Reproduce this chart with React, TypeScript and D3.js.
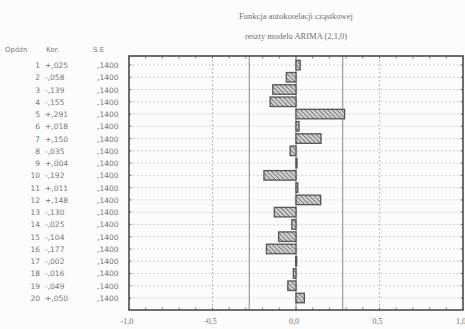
import React from "react";
import * as d3 from "d3";

const titleLines = ["Funkcja autokorelacji cząstkowej", "reszty modelu ARIMA (2,1,0)"];
const headers = ["Opóźn", "Kor.", "S.E"];
const lags = [1, 2, 3, 4, 5, 6, 7, 8, 9, 10, 11, 12, 13, 14, 15, 16, 17, 18, 19, 20];
const pacf = [0.025, -0.058, -0.139, -0.155, 0.291, 0.018, 0.150, -0.035, 0.004, -0.192,
  0.011, 0.148, -0.130, -0.025, -0.104, -0.177, -0.002, -0.016, -0.049, 0.050];
const stdErr = [0.14, 0.14, 0.14, 0.14, 0.14, 0.14, 0.14, 0.14, 0.14, 0.14,
  0.14, 0.14, 0.14, 0.14, 0.14, 0.14, 0.14, 0.14, 0.14, 0.14];
const xTicks = [-1, -0.5, 0, 0.5, 1];
const xTickLabels = ["-1,0", "-0,5", "0,0", "0,5", "1,0"];

const W = 465, H = 329;
const box = { left: 129, right: 463, top: 56, bottom: 310 };

const fmtCorr = (v: number) => {
  const s = v < 0 ? "-" : "+";
  const a = Math.round(Math.abs(v) * 1000);
  return s + "," + String(a).padStart(3, "0");
};
const fmtSE = (v: number) => "," + String(Math.round(v * 10000)).padStart(4, "0");

export default function App() {
  const x = d3.scaleLinear().domain([-1, 1]).range([box.left, box.right]);
  const y = d3.scaleLinear().domain([1, 20]).range([65, 298]);
  const conf = 2 * stdErr[0];
  const minor = d3.range(-1, 1.0001, 0.1);
  const barH = 9.5;
  const textFill = "#777";
  return (
    <svg width={W} height={H} style={{ position: "absolute", left: 0, top: 0, background: "#fcfcfc" }}>
      <defs>
        <pattern id="hatch" width="3.2" height="3.2" patternUnits="userSpaceOnUse" patternTransform="rotate(-45)">
          <rect width="3.2" height="3.2" fill="#cfcfcf" />
          <line x1="0" y1="0" x2="0" y2="3.2" stroke="#6a6a6a" strokeWidth="1.5" />
        </pattern>
      </defs>
      {titleLines.map((t, i) => (
        <text key={i} x={(box.left + box.right) / 2} y={19 + i * 20} textAnchor="middle"
          fontFamily="Liberation Serif, serif" fontSize={8.5} fill="#707070">{t}</text>
      ))}
      <text x={5} y={52} fontFamily="DejaVu Sans, sans-serif" fontSize={7} fill={textFill}>{headers[0]}</text>
      <text x={46} y={52} fontFamily="DejaVu Sans, sans-serif" fontSize={7} fill={textFill}>{headers[1]}</text>
      <text x={93} y={52} fontFamily="DejaVu Sans, sans-serif" fontSize={7} fill={textFill}>{headers[2]}</text>
      {lags.map((l, i) => (
        <g key={l} fontFamily="DejaVu Sans, sans-serif" fontSize={7.5} fill={textFill}>
          <text x={40} y={y(l) + 3} textAnchor="end">{l}</text>
          <text x={45} y={y(l) + 3}>{fmtCorr(pacf[i])}</text>
          <text x={97} y={y(l) + 3}>{fmtSE(stdErr[i])}</text>
        </g>
      ))}
      {lags.map((l) => (
        <line key={"g" + l} x1={box.left} x2={box.right} y1={y(l)} y2={y(l)}
          stroke="#b0b0b0" strokeWidth={0.7} strokeDasharray="1.5,2.5" />
      ))}
      {[-0.5, 0.5].map((v) => (
        <line key={"v" + v} x1={x(v)} x2={x(v)} y1={box.top} y2={box.bottom}
          stroke="#a0a0a0" strokeWidth={0.7} strokeDasharray="2,2" />
      ))}
      {[-conf, conf].map((v) => (
        <line key={"c" + v} x1={x(v)} x2={x(v)} y1={box.top} y2={box.bottom}
          stroke="#8a8a8a" strokeWidth={1} />
      ))}
      <line x1={x(0)} x2={x(0)} y1={box.top} y2={box.bottom} stroke="#777" strokeWidth={0.9} />
      {lags.map((l, i) => (
        <rect key={"b" + l} x={Math.min(x(0), x(pacf[i]))} y={y(l) - barH / 2}
          width={Math.max(1, Math.abs(x(pacf[i]) - x(0)))} height={barH}
          fill="url(#hatch)" stroke="#555" strokeWidth={1.3} />
      ))}
      <rect x={box.left} y={box.top} width={box.right - box.left} height={box.bottom - box.top}
        fill="none" stroke="#4a4a4a" strokeWidth={1.6} />
      {minor.map((v, i) => (
        <g key={"t" + i} stroke="#555" strokeWidth={0.8}>
          <line x1={x(v)} x2={x(v)} y1={box.bottom} y2={box.bottom - 2.5} />
          <line x1={x(v)} x2={x(v)} y1={box.top} y2={box.top + 2.5} />
        </g>
      ))}
      {lags.map((l) => (
        <g key={"lt" + l} stroke="#555" strokeWidth={0.8}>
          <line x1={box.left} x2={box.left + 2.5} y1={y(l)} y2={y(l)} />
          <line x1={box.right} x2={box.right - 2.5} y1={y(l)} y2={y(l)} />
        </g>
      ))}
      {xTicks.map((v, i) => (
        <text key={"xl" + i} x={x(v) - 2} y={324} textAnchor="middle"
          fontFamily="Liberation Serif, serif" fontSize={8} fill="#707070">{xTickLabels[i]}</text>
      ))}
    </svg>
  );
}
